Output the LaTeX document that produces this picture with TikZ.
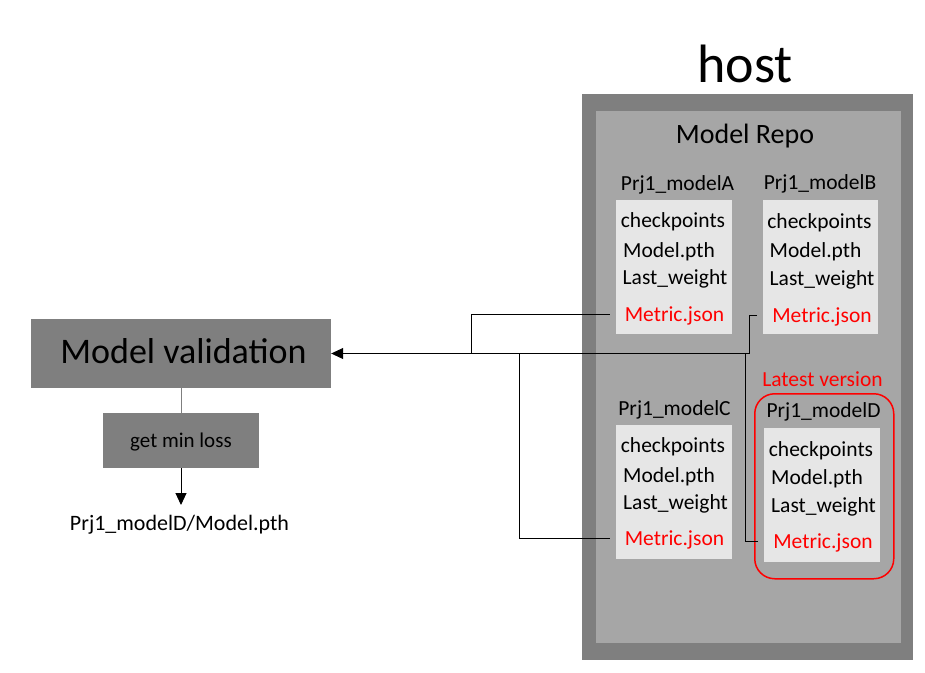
\documentclass[tikz,border=0pt]{standalone}
\usepackage{fontspec}
\setmainfont{Carlito}
\usetikzlibrary{arrows.meta}
\definecolor{hostgray}{HTML}{7F7F7F}
\definecolor{repogray}{HTML}{A6A6A6}
\definecolor{filegray}{HTML}{E6E6E6}
\definecolor{alert}{HTML}{FF0000}
\tikzset{
  fs/.style={font=\fontsize{#1}{#1}\selectfont},
  txt/.style={anchor=base, inner sep=0pt, fs=21.5},
  metric/.style={txt, text=alert, inner xsep=15pt, text height=17pt, text depth=3pt},
  panel/.style={anchor=north west, inner sep=0pt, draw=none},
  filebox/.style={panel, fill=filegray, minimum width=116pt, minimum height=134pt},
  darkbox/.style={fill=hostgray, inner sep=0pt, draw=none},
  conn/.style={draw=black, line width=1pt},
  tip/.style={-{Triangle[length=12pt,width=11pt]}},
}
\begin{document}
\begin{tikzpicture}[x=1pt,y=-1pt]
\useasboundingbox (0,0) rectangle (925,672);

% host
\node[txt, fs=54] (hostlbl) at (745,82) {host};
\node[panel, fill=hostgray, minimum width=331pt, minimum height=566pt] (host) at (582,94) {};
\node[panel, fill=repogray, minimum width=305pt, minimum height=532pt] (repo) at (596,111) {};
\node[txt, fs=28] (repolbl) at (745,143) {Model Repo};

% model A
\node[txt] (tA) at (677.5,190) {Prj1\_modelA};
\node[filebox] (bA) at (616,200) {};
\node[txt] (cA) at (673,227) {checkpoints};
\node[txt] (pA) at (669,257) {Model.pth};
\node[txt] (lA) at (675,284) {Last\_weight};
\node[metric] (mA) at (674.5,321) {Metric.json};

% model B
\node[txt] (tB) at (820,189) {Prj1\_modelB};
\node[filebox, minimum width=115pt] (bB) at (763,200) {};
\node[txt] (cB) at (819.5,228) {checkpoints};
\node[txt] (pB) at (815.5,257) {Model.pth};
\node[txt] (lB) at (822,285) {Last\_weight};
\node[metric] (mB) at (822,322) {Metric.json};

% model C
\node[txt] (tC) at (674.5,415) {Prj1\_modelC};
\node[filebox] (bC) at (616,425) {};
\node[txt] (cC) at (673,452) {checkpoints};
\node[txt] (pC) at (669,482) {Model.pth};
\node[txt] (lC) at (675.5,509) {Last\_weight};
\node[metric] (mC) at (674.5,545) {Metric.json};

% model D (latest)
\node[txt, text=alert] (latest) at (822.5,386) {Latest version};
\node[panel, draw=alert, line width=1.5pt, rounded corners=20pt, minimum width=139pt, minimum height=185pt] (red) at (754,393) {};
\node[txt] (tD) at (823.5,417) {Prj1\_modelD};
\node[filebox] (bD) at (764,428) {};
\node[txt] (cD) at (821,456) {checkpoints};
\node[txt] (pD) at (817,484) {Model.pth};
\node[txt] (lD) at (823.5,512) {Last\_weight};
\node[metric] (mD) at (823,548) {Metric.json};

% left side
\node[darkbox, minimum width=300pt, minimum height=69pt] (mv) at (181,353.5) {};
\node[txt, fs=36] (mvlbl) at (183.5,363) {Model validation};
\node[darkbox, minimum width=156pt, minimum height=55pt] (gml) at (181,440.5) {};
\node[txt, fs=21] (gmllbl) at (181,447) {get min loss};
\node[txt, fs=22] (out) at (179.5,530) {Prj1\_modelD/Model.pth};
\coordinate (outtip) at (181,505);

\draw[hostgray, line width=1pt] (mv.south) -- (gml.north);
\draw[conn, tip] (gml.south) -- (outtip);

% connectors
\coordinate (jA) at (471,353.5);
\coordinate (jB) at (749,353.5);
\coordinate (jC) at (519,353.5);
\coordinate (jD) at (745,353.5);
\draw[conn, tip] (mA.west) -| (jA) -- (mv.east);
\draw[conn] (mB.west) -| (jB) -- (jA);
\draw[conn] (mC.west) -| (jC);
\draw[conn] (mD.west) -| (jD);
\end{tikzpicture}
\end{document}
